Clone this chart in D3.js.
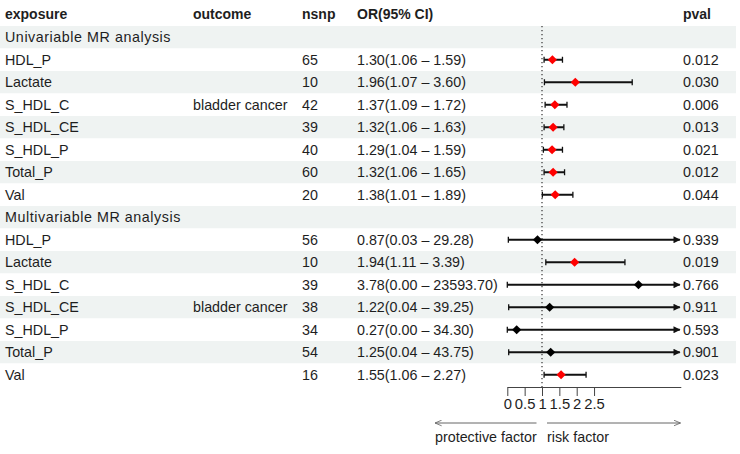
<!DOCTYPE html>
<html><head><meta charset="utf-8">
<script src="https://cdn.jsdelivr.net/npm/d3@7"></script>
<style>
html,body{margin:0;padding:0;background:#fff;}
svg{display:block;}
</style></head>
<body>
<svg id="chart" width="740" height="454"></svg>
<script>
// ---------- data ----------
const headers = ["exposure", "outcome", "nsnp", "OR(95% CI)", "pval"];
const groups = ["Univariable MR analysis", "Multivariable MR analysis"];
const exposures = ["HDL_P", "Lactate", "S_HDL_C", "S_HDL_CE", "S_HDL_P", "Total_P", "Val"];
const outcomeUni = ["", "", "bladder cancer", "", "", "", ""];
const outcomeMulti = ["", "", "", "bladder cancer", "", "", ""];
const nsnpUni = [65, 10, 42, 39, 40, 60, 20];
const nsnpMulti = [56, 10, 39, 38, 34, 54, 16];
const orUni = [1.30, 1.96, 1.37, 1.32, 1.29, 1.32, 1.38];
const lowUni = [1.06, 1.07, 1.09, 1.06, 1.04, 1.06, 1.01];
const upUni = [1.59, 3.60, 1.72, 1.63, 1.59, 1.65, 1.89];
const orMulti = [0.87, 1.94, 3.78, 1.22, 0.27, 1.25, 1.55];
const lowMulti = [0.03, 1.11, 0.00, 0.04, 0.00, 0.04, 1.06];
const upMulti = [29.28, 3.39, 23593.70, 39.25, 34.30, 43.75, 2.27];
const pUni = [0.012, 0.030, 0.006, 0.013, 0.021, 0.012, 0.044];
const pMulti = [0.939, 0.019, 0.766, 0.911, 0.593, 0.901, 0.023];
const xTicks = [0, 0.5, 1, 1.5, 2, 2.5];
const xTickLabels = ["0", "0.5", "1", "1.5", "2", "2.5"];
const xLimits = [0, 5];
const refLine = 1;
const leftLabel = "protective factor";
const rightLabel = "risk factor";

// ---------- build rows ----------
const rows = [];
function addGroup(title, outc, nsnp, or, lo, up, p) {
  rows.push({type: "group", label: title});
  exposures.forEach((e, i) => rows.push({
    type: "item", exposure: e, outcome: outc[i], nsnp: nsnp[i],
    or: or[i], lo: lo[i], up: up[i], p: p[i]
  }));
}
addGroup(groups[0], outcomeUni, nsnpUni, orUni, lowUni, upUni, pUni);
addGroup(groups[1], outcomeMulti, nsnpMulti, orMulti, lowMulti, upMulti, pMulti);

// ---------- layout ----------
const svg = d3.select("#chart");
const font = "'Liberation Sans', Arial, sans-serif";
const fs = 14.3;
const textCol = "#1e1e1e";
const colX = {exposure: 5, outcome: 193, nsnp: 302, or: 357, pval: 683};
const rowH = 22.5;
const firstRowTop = 26;
const y = d3.scaleBand().domain(d3.range(rows.length))
  .range([firstRowTop, firstRowTop + rowH * rows.length]).padding(0);
const x = d3.scaleLinear().domain(xLimits).range([507.3, 680.8]);

// backgrounds
svg.append("g").selectAll("rect").data(rows).join("rect")
  .attr("x", 0).attr("width", 736)
  .attr("y", (d, i) => y(i)).attr("height", y.bandwidth())
  .attr("fill", (d, i) => i % 2 === 0 ? "#eff3f2" : "#ffffff");

// header
const hdr = svg.append("g").attr("font-family", font).attr("font-size", 14)
  .attr("font-weight", "bold").attr("fill", textCol);
const hx = [colX.exposure, colX.outcome, colX.nsnp, colX.or, colX.pval];
headers.forEach((h, i) => hdr.append("text").attr("x", hx[i]).attr("y", 19).text(h));

// body text
const fmt2 = d3.format(".2f");
const fmt3 = d3.format(".3f");
const body = svg.append("g").attr("font-family", font).attr("font-size", fs).attr("fill", textCol);
rows.forEach((r, i) => {
  const cy = y(i) + y.bandwidth() / 2 + 5;
  if (r.type === "group") {
    body.append("text").attr("x", colX.exposure).attr("y", cy)
      .attr("letter-spacing", 0.55).text(r.label);
    return;
  }
  body.append("text").attr("x", colX.exposure).attr("y", cy).text(r.exposure);
  body.append("text").attr("x", colX.outcome).attr("y", cy).text(r.outcome);
  body.append("text").attr("x", colX.nsnp).attr("y", cy).text(r.nsnp);
  body.append("text").attr("x", colX.or).attr("y", cy)
    .text(`${fmt2(r.or)}(${fmt2(r.lo)} \u2013 ${fmt2(r.up)})`);
  body.append("text").attr("x", colX.pval).attr("y", cy).text(fmt3(r.p));
});

// reference line
svg.append("line")
  .attr("x1", x(refLine)).attr("x2", x(refLine))
  .attr("y1", firstRowTop).attr("y2", 387)
  .attr("stroke", "#333").attr("stroke-width", 1.2).attr("stroke-dasharray", "1.3,2.7");

// forest marks
const defs = svg.append("defs");
defs.append("marker").attr("id", "ah").attr("viewBox", "0 0 10 10")
  .attr("refX", 9).attr("refY", 5).attr("markerWidth", 8).attr("markerHeight", 7)
  .attr("markerUnits", "userSpaceOnUse").attr("orient", "auto")
  .append("path").attr("d", "M0,0 L10,5 L0,10 Z").attr("fill", "#111");

const forest = svg.append("g");
const capH = 3;
rows.forEach((r, i) => {
  if (r.type !== "item") return;
  const cy = y(i) + y.bandwidth() / 2;
  const lo = Math.max(r.lo, xLimits[0]);
  const clipped = r.up > xLimits[1];
  const hi = Math.min(r.up, xLimits[1]);
  const x1 = x(lo), x2 = x(hi);
  forest.append("line").attr("x1", x1).attr("x2", clipped ? x2 - 1 : x2)
    .attr("y1", cy).attr("y2", cy).attr("stroke", "#111").attr("stroke-width", 2)
    .attr("marker-end", clipped ? "url(#ah)" : null);
  forest.append("line").attr("x1", x1).attr("x2", x1).attr("y1", cy - capH).attr("y2", cy + capH)
    .attr("stroke", "#111").attr("stroke-width", 1.3);
  if (!clipped) {
    forest.append("line").attr("x1", x2).attr("x2", x2).attr("y1", cy - capH).attr("y2", cy + capH)
      .attr("stroke", "#111").attr("stroke-width", 1.3);
  }
  const px = x(r.or);
  const s = 4.6;
  forest.append("path")
    .attr("d", `M${px},${cy - s} L${px + s},${cy} L${px},${cy + s} L${px - s},${cy} Z`)
    .attr("fill", r.p < 0.05 ? "#ff0000" : "#000");
});

// axis
const axisY = 387;
const axis = d3.axisBottom(x).tickValues(xTicks)
  .tickFormat((d, i) => xTickLabels[i]).tickSize(9).tickSizeOuter(0).tickPadding(2);
const ag = svg.append("g").attr("transform", `translate(0,${axisY})`).call(axis);
ag.select(".domain").attr("stroke", "#444");
ag.selectAll(".tick line").attr("stroke", "#444");
ag.selectAll(".tick text").attr("font-family", font).attr("font-size", 14.8).attr("fill", textCol);

// direction arrows
defs.append("marker").attr("id", "chev").attr("viewBox", "0 0 10 10")
  .attr("refX", 9.5).attr("refY", 5).attr("markerWidth", 7).attr("markerHeight", 7)
  .attr("markerUnits", "userSpaceOnUse").attr("orient", "auto-start-reverse")
  .append("path").attr("d", "M0,1 L9.5,5 L0,9").attr("fill", "none").attr("stroke", "#666").attr("stroke-width", 1.2);
const arrY = 423;
svg.append("line").attr("x1", 435).attr("x2", 536.5).attr("y1", arrY).attr("y2", arrY)
  .attr("stroke", "#666").attr("stroke-width", 1).attr("marker-start", "url(#chev)");
svg.append("line").attr("x1", 547).attr("x2", 680.5).attr("y1", arrY).attr("y2", arrY)
  .attr("stroke", "#666").attr("stroke-width", 1).attr("marker-end", "url(#chev)");
svg.append("text").attr("x", 435).attr("y", 442).attr("font-family", font).attr("font-size", fs)
  .attr("fill", textCol).text(leftLabel);
svg.append("text").attr("x", 547).attr("y", 442).attr("font-family", font).attr("font-size", fs)
  .attr("fill", textCol).text(rightLabel);
</script>
</body></html>
